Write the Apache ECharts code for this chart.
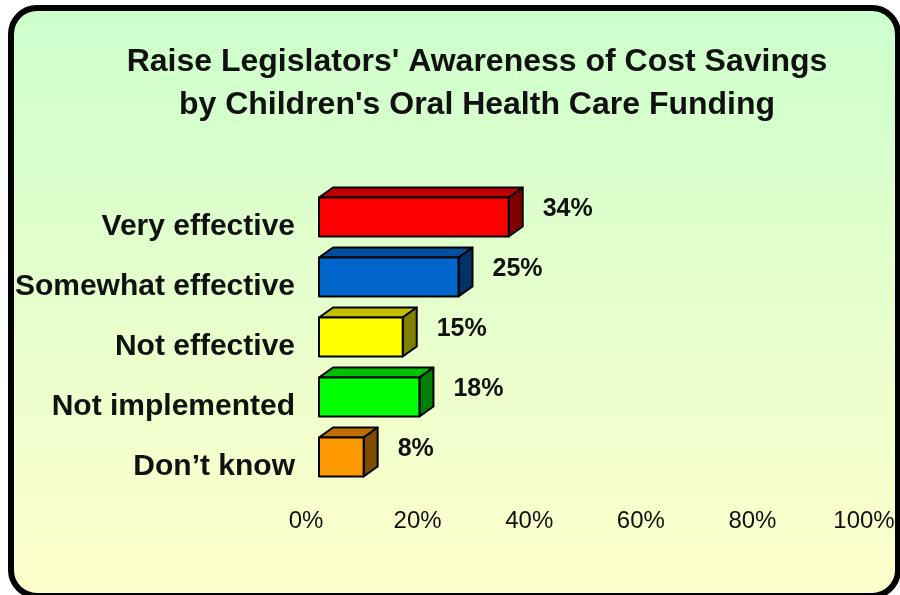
<!DOCTYPE html>
<html>
<head>
<meta charset="utf-8">
<script src="https://cdn.jsdelivr.net/npm/echarts@6/dist/echarts.min.js"></script>
<style>html,body{margin:0;padding:0;background:#fff;}#c{width:900px;height:595px;}</style>
</head>
<body>
<div id="c"></div>
<script>
var categories = ['Very effective', 'Somewhat effective', 'Not effective', 'Not implemented', 'Don\u2019t know'];
var values = [34, 25, 15, 18, 8];
var xTicks = [0, 20, 40, 60, 80, 100];

var frontColors = ['#ff0000', '#0066cc', '#ffff00', '#00ff00', '#ff9900'];
var topColors = ['#c00000', '#00509f', '#c0c000', '#00c000', '#c07000'];
var sideColors = ['#800000', '#003366', '#808000', '#008000', '#804c00'];

var chart = echarts.init(document.getElementById('c'), null, {renderer: 'canvas'});
var FONT = '"Liberation Sans", Arial, sans-serif';
var DX = 14, DY = 10, SHIFT = 13;

var option = {
  backgroundColor: '#ffffff',
  animation: false,
  graphic: [{
    type: 'rect', z: -10, silent: true,
    shape: {x: 11, y: 8, width: 887, height: 588, r: 26},
    style: {
      fill: new echarts.graphic.LinearGradient(0, 0, 0, 1, [
        {offset: 0, color: '#ccffcc'}, {offset: 1, color: '#ffffcc'}
      ]),
      stroke: '#000', lineWidth: 6
    }
  }],
  title: {
    text: "Raise Legislators' Awareness of Cost Savings\nby Children's Oral Health Care Funding",
    left: 472, top: 36, textAlign: 'center',
    textStyle: {fontFamily: FONT, fontSize: 32, fontWeight: 'bold', color: '#111', lineHeight: 43}
  },
  grid: {left: 306, right: 36, top: 197, height: 300},
  xAxis: {
    type: 'value', min: xTicks[0], max: xTicks[xTicks.length - 1], interval: xTicks[1] - xTicks[0],
    axisLine: {show: false}, axisTick: {show: false}, splitLine: {show: false},
    axisLabel: {formatter: '{value}%', fontFamily: FONT, fontSize: 24, color: '#111', margin: 12}
  },
  yAxis: {
    type: 'category', data: categories, inverse: true,
    axisLine: {show: false}, axisTick: {show: false},
    axisLabel: {fontFamily: FONT, fontSize: 30, fontWeight: 'bold', color: '#111', margin: 11}
  },
  series: [{
    type: 'custom',
    data: values.map(function (v, i) { return [v, i]; }),
    renderItem: function (params, api) {
      var idx = params.dataIndex;
      var v = api.value(0);
      var p1 = api.coord([v, api.value(1)]);
      var p0 = api.coord([0, api.value(1)]);
      var h = api.size([0, 1])[1] * 0.65;
      var x0 = p0[0] + SHIFT, x1 = p1[0] + SHIFT;
      var cy = p1[1] - DY;
      var yT = cy - h / 2, yB = cy + h / 2;
      var ls = {stroke: '#000', lineWidth: 2, lineJoin: 'round'};
      return {
        type: 'group',
        children: [
          {type: 'polygon', shape: {points: [[x0, yT], [x0 + DX, yT - DY], [x1 + DX, yT - DY], [x1, yT]]},
           style: Object.assign({fill: topColors[idx]}, ls)},
          {type: 'polygon', shape: {points: [[x1, yT], [x1 + DX, yT - DY], [x1 + DX, yB - DY], [x1, yB]]},
           style: Object.assign({fill: sideColors[idx]}, ls)},
          {type: 'rect', shape: {x: x0, y: yT, width: x1 - x0, height: h},
           style: Object.assign({fill: frontColors[idx]}, ls)},
          {type: 'text', x: x1 + DX + 20, y: cy - DY + 2,
           style: {text: v + '%', fontFamily: FONT, fontSize: 25, fontWeight: 'bold', fill: '#111',
                   align: 'left', verticalAlign: 'middle'}}
        ]
      };
    }
  }]
};
chart.setOption(option);
</script>
</body>
</html>
